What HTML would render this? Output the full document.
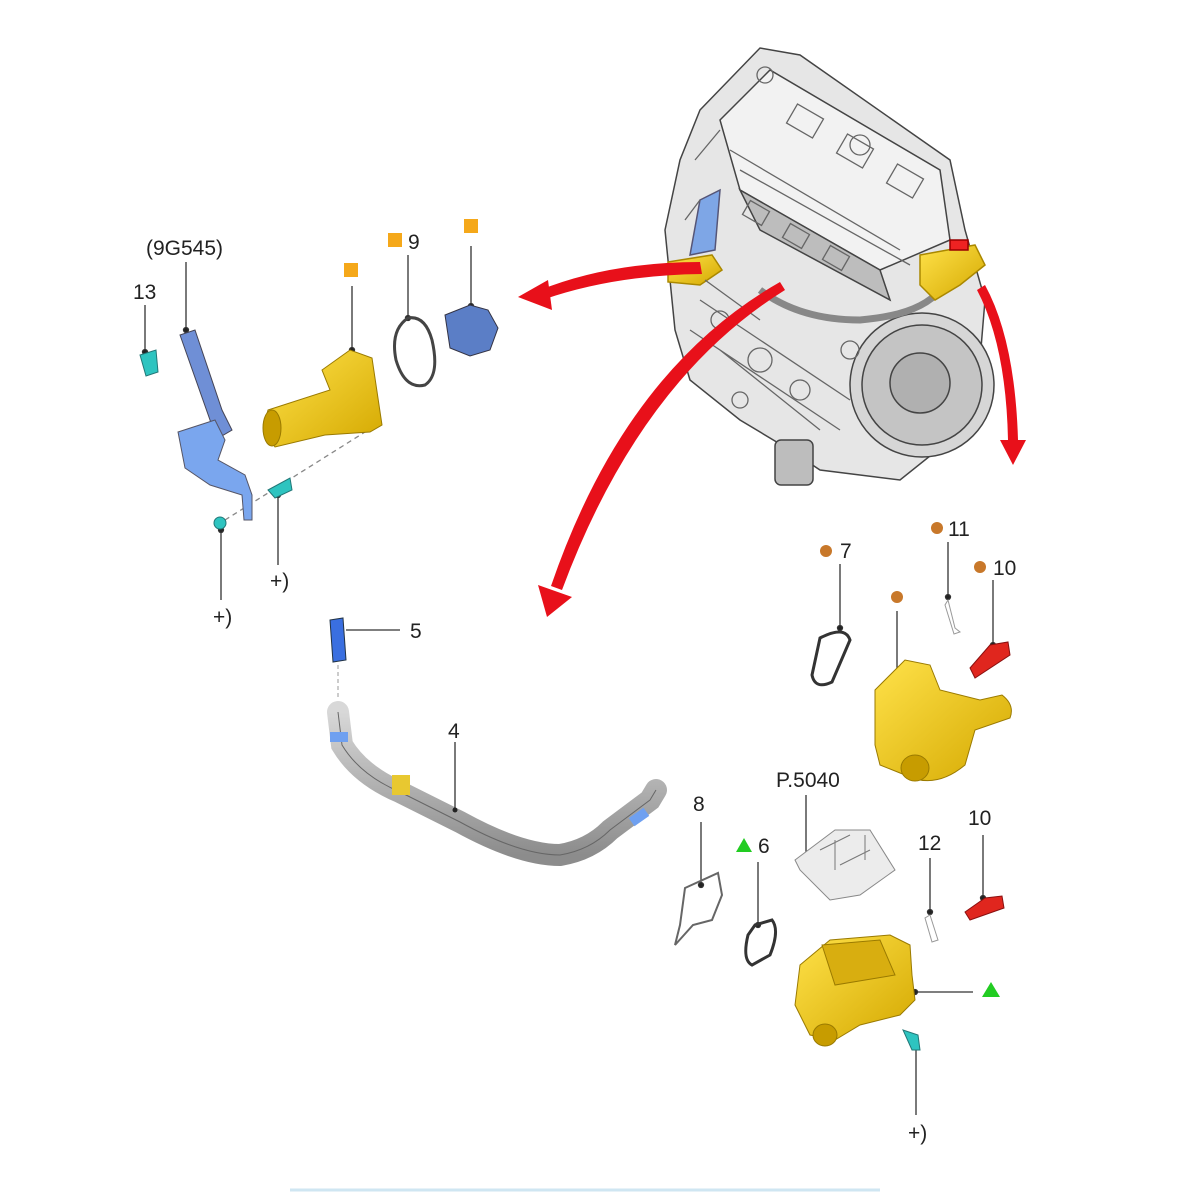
<!DOCTYPE html>
<html><head><style>
html,body{margin:0;padding:0;background:#fff;width:1200px;height:1200px;overflow:hidden}
svg text{font-family:"Liberation Sans",sans-serif;font-size:21px;fill:#222}
</style></head><body>
<svg width="1200" height="1200" viewBox="0 0 1200 1200" xmlns="http://www.w3.org/2000/svg">
<defs>
<linearGradient id="y" x1="0" y1="0" x2="1" y2="1"><stop offset="0" stop-color="#ffe24a"/><stop offset="1" stop-color="#d4a800"/></linearGradient>
<linearGradient id="g" x1="0" y1="0" x2="0" y2="1"><stop offset="0" stop-color="#d8d8d8"/><stop offset="1" stop-color="#8c8c8c"/></linearGradient>
</defs>
<!-- ENGINE -->
<g stroke="#444" stroke-width="1.5">
<path d="M700,110 L760,48 L800,55 L950,160 L965,230 L985,300 L975,420 L900,480 L820,470 L790,450 L740,420 L690,380 L675,330 L665,230 L680,160 Z" fill="#e6e6e6"/>
<path d="M720,120 L770,70 L940,170 L950,240 L880,270 L740,190 Z" fill="#f2f2f2"/>
<path d="M740,190 L880,270 L890,300 L760,230 Z" fill="#bdbdbd"/>
<circle cx="922" cy="385" r="72" fill="#d6d6d6"/>
<circle cx="922" cy="385" r="60" fill="#c4c4c4"/>
<circle cx="920" cy="383" r="30" fill="#b0b0b0"/>
<rect x="775" y="440" width="38" height="45" rx="6" fill="#bdbdbd"/>
<path d="M760,290 Q800,320 860,320 Q920,315 940,290" fill="none" stroke="#888" stroke-width="7"/>
<path d="M700,200 L720,190 L715,250 L690,255 Z" fill="#7ea6e6" stroke="#557"/>
<path d="M668,262 L712,255 L722,270 L700,285 L668,282 Z" fill="url(#y)" stroke="#a80"/>
<path d="M920,255 L975,245 L985,265 L960,285 L935,300 L920,285 Z" fill="url(#y)" stroke="#a80"/>
<rect x="950" y="240" width="18" height="10" fill="#e22" stroke="#900"/>
</g>
<g stroke="#666" stroke-width="1.3" fill="none">
<path d="M730,150 L900,250 M740,170 L910,265 M700,300 L850,400 M720,350 L820,430 M690,330 L840,430 M705,280 L760,320"/>
<circle cx="765" cy="75" r="8"/><circle cx="860" cy="145" r="10"/>
<rect x="790" y="110" width="30" height="22" transform="rotate(30 805 121)"/>
<rect x="840" y="140" width="30" height="22" transform="rotate(30 855 151)"/>
<rect x="890" y="170" width="30" height="22" transform="rotate(30 905 181)"/>
<rect x="745" y="205" width="22" height="16" transform="rotate(30 756 213)"/>
<rect x="785" y="228" width="22" height="16" transform="rotate(30 796 236)"/>
<rect x="825" y="250" width="22" height="16" transform="rotate(30 836 258)"/>
<circle cx="720" cy="320" r="9"/><circle cx="760" cy="360" r="12"/><circle cx="800" cy="390" r="10"/>
<circle cx="740" cy="400" r="8"/><circle cx="850" cy="350" r="9"/>
<path d="M695,160 L720,130 M685,220 L700,200"/>
</g>
<!-- RED ARROWS -->
<g fill="#e8101a">
<path d="M700,262 Q610,262 540,290 L545,299 Q615,275 702,274 Z"/>
<path d="M518,297 L548,280 L552,310 Z"/>
<path d="M785,290 Q640,380 562,590 L551,586 Q625,370 780,282 Z"/>
<path d="M547,617 L538,585 L572,597 Z"/>
<path d="M985,285 Q1015,340 1018,440 L1008,440 Q1006,345 977,290 Z"/>
<path d="M1013,465 L1000,440 L1026,440 Z"/>
</g>
<!-- LEFT GROUP -->
<g stroke="#333" stroke-width="1.3" fill="none">
<line x1="186" y1="262" x2="186" y2="330"/><circle cx="186" cy="330" r="2.5" fill="#222"/>
<line x1="145" y1="305" x2="145" y2="352"/><circle cx="145" cy="352" r="2.5" fill="#222"/>
<line x1="352" y1="286" x2="352" y2="350"/><circle cx="352" cy="350" r="2.5" fill="#222"/>
<line x1="408" y1="255" x2="408" y2="318"/><circle cx="408" cy="318" r="2.5" fill="#222"/>
<line x1="471" y1="246" x2="471" y2="306"/><circle cx="471" cy="306" r="2.5" fill="#222"/>
<line x1="278" y1="495" x2="278" y2="565"/><circle cx="278" cy="495" r="2.5" fill="#222"/>
<line x1="221" y1="530" x2="221" y2="600"/><circle cx="221" cy="530" r="2.5" fill="#222"/>
<path d="M225,520 L365,432" stroke-dasharray="5,4" stroke="#888"/>
</g>
<text x="146" y="255">(9G545)</text>
<text x="133" y="299">13</text>
<text x="408" y="249">9</text>
<text x="270" y="588">+)</text>
<text x="213" y="624">+)</text>
<rect x="344" y="263" width="14" height="14" fill="#f5a81a"/>
<rect x="388" y="233" width="14" height="14" fill="#f5a81a"/>
<rect x="464" y="219" width="14" height="14" fill="#f5a81a"/>
<path d="M180,335 L195,330 L222,410 L232,430 L215,440 L210,420 Z" fill="#6f8fd6" stroke="#445"/>
<path d="M178,432 L215,420 L225,440 L218,460 L245,475 L252,495 L252,520 L244,520 L242,495 L210,485 L185,468 Z" fill="#7aa6ee" stroke="#556"/>
<path d="M140,355 L156,350 L158,372 L146,376 Z" fill="#2ec4c0" stroke="#277"/>
<path d="M268,490 L290,478 L292,490 L275,498 Z" fill="#2ec4c0" stroke="#277"/>
<circle cx="220" cy="523" r="6" fill="#2ec4c0" stroke="#277"/>
<path d="M268,410 L330,390 L322,370 L350,350 L372,358 L382,425 L370,432 L325,435 L275,447 Q262,430 268,410 Z" fill="url(#y)" stroke="#9a7a00"/>
<ellipse cx="272" cy="428" rx="9" ry="18" fill="#c79c00" stroke="#9a7a00"/>
<path d="M408,318 Q390,330 396,360 Q405,390 425,385 Q440,375 432,340 Q425,315 408,318 Z" fill="none" stroke="#444" stroke-width="3"/>
<path d="M445,315 L470,305 L488,310 L498,328 L490,350 L470,356 L450,348 Z" fill="#5b7ec6" stroke="#334"/>
<!-- part 5 -->
<path d="M330,620 L343,618 L346,660 L333,662 Z" fill="#3a6fe0" stroke="#234"/>
<line x1="346" y1="630" x2="400" y2="630" stroke="#333" stroke-width="1.3"/>
<text x="410" y="638">5</text>
<line x1="338" y1="665" x2="338" y2="700" stroke="#999" stroke-dasharray="4,3"/>
<path d="M338,712 L342,745 Q360,775 400,792 L460,822 Q520,855 560,855 Q590,850 610,830 L650,800 L656,790" fill="none" stroke="url(#g)" stroke-width="22" stroke-linecap="round"/>
<path d="M338,712 L342,745 Q360,775 400,792 L460,822 Q520,855 560,855 Q590,850 610,830 L650,800 L656,790" fill="none" stroke="#666" stroke-width="1"/>
<rect x="330" y="732" width="18" height="10" fill="#6fa0f0"/>
<rect x="630" y="812" width="18" height="10" fill="#6fa0f0" transform="rotate(-35 639 817)"/>
<rect x="392" y="775" width="18" height="20" fill="#e8c830"/>
<line x1="455" y1="742" x2="455" y2="810" stroke="#333" stroke-width="1.3"/><circle cx="455" cy="810" r="2.5" fill="#222"/>
<text x="448" y="738">4</text>
<!-- RIGHT UPPER -->
<g stroke="#333" stroke-width="1.3" fill="none">
<line x1="840" y1="564" x2="840" y2="628"/><circle cx="840" cy="628" r="2.5" fill="#222"/>
<line x1="948" y1="542" x2="948" y2="597"/><circle cx="948" cy="597" r="2.5" fill="#222"/>
<line x1="993" y1="580" x2="993" y2="645"/><circle cx="993" cy="645" r="2.5" fill="#222"/>
<line x1="897" y1="611" x2="897" y2="673"/><circle cx="897" cy="673" r="2.5" fill="#222"/>
</g>
<circle cx="826" cy="551" r="6" fill="#c8782a"/><text x="840" y="558">7</text>
<circle cx="937" cy="528" r="6" fill="#c8782a"/><text x="948" y="536">11</text>
<circle cx="980" cy="567" r="6" fill="#c8782a"/><text x="993" y="575">10</text>
<circle cx="897" cy="597" r="6" fill="#c8782a"/>
<path d="M820,638 Q845,625 850,640 L832,682 Q815,690 812,675 Z" fill="none" stroke="#333" stroke-width="3"/>
<path d="M948,600 L955,628 L960,632 L954,634 L945,605 Z" fill="none" stroke="#999"/>
<path d="M970,668 L990,645 L1008,642 L1010,655 L975,678 Z" fill="#e0261e" stroke="#8a1010"/>
<path d="M875,690 L905,660 L930,665 L940,690 L980,700 L1002,695 Q1015,705 1010,718 L975,730 L965,765 Q935,790 905,775 L880,765 L875,745 Z" fill="url(#y)" stroke="#9a7a00"/>
<ellipse cx="915" cy="768" rx="14" ry="13" fill="#c79c00" stroke="#9a7a00"/>
<!-- RIGHT LOWER -->
<text x="776" y="787">P.5040</text>
<text x="693" y="811">8</text>
<text x="758" y="853">6</text>
<path d="M744,838 L752,852 L736,852 Z" fill="#22cc22"/>
<text x="918" y="850">12</text>
<text x="968" y="825">10</text>
<g stroke="#333" stroke-width="1.3" fill="none">
<line x1="806" y1="795" x2="806" y2="858"/><circle cx="806" cy="858" r="2.5" fill="#222"/>
<line x1="701" y1="822" x2="701" y2="885"/><circle cx="701" cy="885" r="2.5" fill="#222"/>
<line x1="758" y1="862" x2="758" y2="925"/><circle cx="758" cy="925" r="2.5" fill="#222"/>
<line x1="930" y1="858" x2="930" y2="912"/><circle cx="930" cy="912" r="2.5" fill="#222"/>
<line x1="983" y1="835" x2="983" y2="898"/><circle cx="983" cy="898" r="2.5" fill="#222"/>
<line x1="915" y1="992" x2="973" y2="992"/><circle cx="915" cy="992" r="2.5" fill="#222"/>
<line x1="916" y1="1045" x2="916" y2="1115"/><circle cx="916" cy="1045" r="2.5" fill="#222"/>
</g>
<path d="M991,982 L1000,997 L982,997 Z" fill="#22cc22"/>
<text x="908" y="1140">+)</text>
<path d="M685,888 L718,873 L722,895 L712,920 L693,925 L675,945 L680,925 Z" fill="none" stroke="#666" stroke-width="2"/>
<path d="M755,925 L772,920 Q780,930 770,955 L752,965 Q742,960 748,935 Z" fill="none" stroke="#333" stroke-width="3"/>
<path d="M795,860 L835,830 L870,830 L895,870 L860,895 L830,900 L800,870 Z" fill="#ececec" stroke="#888"/>
<path d="M820,850 L850,835 M840,865 L870,850 M835,840 L835,870 M865,835 L865,860" stroke="#777" fill="none"/>
<path d="M930,915 L938,940 L932,942 L925,918 Z" fill="none" stroke="#999"/>
<path d="M965,912 L985,898 L1002,896 L1004,908 L970,920 Z" fill="#e0261e" stroke="#8a1010"/>
<path d="M800,965 L830,940 L890,935 L910,945 L912,975 L915,1000 L900,1015 L860,1025 L835,1040 L810,1035 L795,1005 Z" fill="url(#y)" stroke="#9a7a00"/>
<path d="M822,945 L880,940 L895,975 L835,985 Z" fill="#d8ae10" stroke="#9a7a00"/>
<ellipse cx="825" cy="1035" rx="12" ry="11" fill="#c79c00" stroke="#9a7a00"/>
<path d="M903,1030 L918,1035 L920,1050 L912,1050 Z" fill="#2ec4c0" stroke="#277"/>
<line x1="290" y1="1190" x2="880" y2="1190" stroke="#cfe6f2" stroke-width="3"/>
</svg>
</body></html>
